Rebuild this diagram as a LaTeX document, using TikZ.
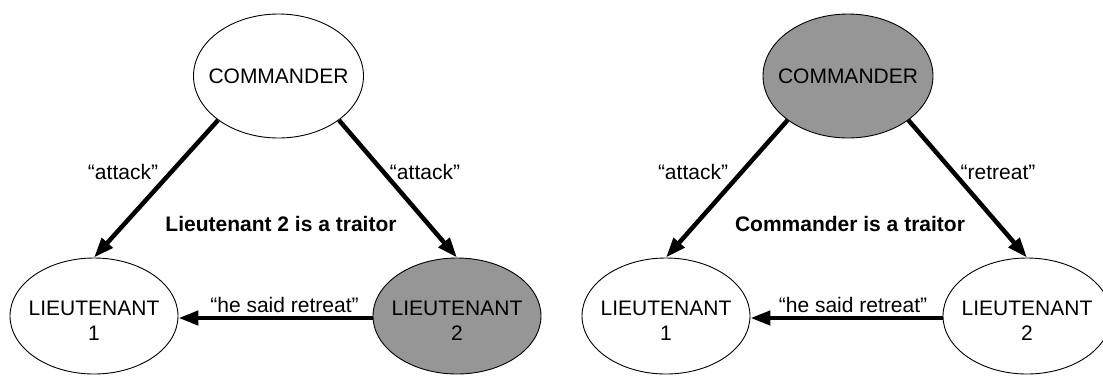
\documentclass[tikz,border=0pt]{standalone}
\usepackage{fontspec}
\setmainfont{Liberation Sans}
\usetikzlibrary{arrows.meta,shapes.geometric}
\definecolor{traitorgray}{RGB}{150,150,150}
\begin{document}
\begin{tikzpicture}[x=1pt,y=-1pt,
  cmd/.style={draw, line width=0.9pt, ellipse, fill=white, inner sep=0pt,
    minimum width=170pt, minimum height=124pt},
  lt/.style={draw, line width=0.9pt, ellipse, fill=white, inner sep=0pt,
    minimum width=168pt, minimum height=116pt},
  bad/.style={fill=traitorgray},
  nodetext/.style={font=\fontsize{21}{25}\selectfont, align=center, inner sep=0pt},
  msg/.style={font=\fontsize{21}{25}\selectfont, inner sep=0pt},
  headline/.style={font=\bfseries\fontsize{21}{25}\selectfont, inner sep=0pt},
  arr/.style={line width=4.5pt, -{Triangle[length=20pt,width=14pt]}}]
\useasboundingbox (0,0) rectangle (1103,376);
\clip (0,0) rectangle (1103,376);

% ---------- left diagram: Lieutenant 2 is a traitor ----------
\node[cmd] (C) at (278.5,76) {};
\node[nodetext] (Ct) at (C.center) {COMMANDER};
\node[lt] (L1) at (94,316) {};
\node[nodetext] (L1t) at ([yshift=-5pt]L1.center) {LIEUTENANT\\1};
\node[lt,bad] (L2) at (457,316) {};
\node[nodetext] (L2t) at ([yshift=-5pt]L2.center) {LIEUTENANT\\2};

\draw[arr] (C.south west) -- (L1.north);
\draw[arr] (C.south east) -- (L2.north);
\draw[arr] ([yshift=-2pt]L2.west) -- ([yshift=-2pt]L1.east);

\node[msg] (m1) at (123,172) {“attack"};
\node[msg] (m2) at (425,172) {“attack"};
\node[msg] (m3) at (284.5,305) {“he said retreat"};
\node[headline] (h1) at (281,224) {Lieutenant 2 is a traitor};

% ---------- right diagram: Commander is a traitor ----------
\node[cmd,bad] (RC) at (848,76) {};
\node[nodetext] (RCt) at (RC.center) {COMMANDER};
\node[lt] (RL1) at (666,316) {};
\node[nodetext] (RL1t) at ([yshift=-5pt]RL1.center) {LIEUTENANT\\1};
\node[lt] (RL2) at (1027,316) {};
\node[nodetext] (RL2t) at ([yshift=-5pt]RL2.center) {LIEUTENANT\\2};

\draw[arr] (RC.south west) -- (RL1.north);
\draw[arr] (RC.south east) -- (RL2.north);
\draw[arr] ([yshift=-2pt]RL2.west) -- ([yshift=-2pt]RL1.east);

\node[msg] (rm1) at (693,172) {“attack"};
\node[msg] (rm2) at (998,172) {“retreat"};
\node[msg] (rm3) at (853,305) {“he said retreat"};
\node[headline] (rh1) at (850,224) {Commander is a traitor};
\end{tikzpicture}
\end{document}
